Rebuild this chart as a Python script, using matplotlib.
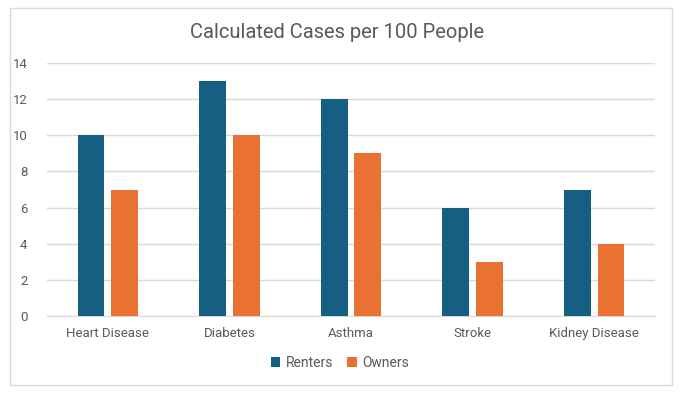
import numpy as np
import matplotlib
matplotlib.use("Agg")
import matplotlib.pyplot as plt
import matplotlib.patches as patches

categories = ["Heart Disease", "Diabetes", "Asthma", "Stroke", "Kidney Disease"]
renters = [10, 13, 12, 6, 7]
owners = [7, 10, 9, 3, 4]

plt.rcParams['font.family'] = ['Roboto', 'DejaVu Sans']
text_color = '#595959'
grid_color = '#D9D9D9'

fig = plt.figure(figsize=(6.83, 3.95), dpi=100)
ax = fig.add_axes([47/683, 1-316/395, (655-47)/683, (316-63)/395])

# outer chart border
fig.patches.append(patches.Rectangle((10/683, 1-385/395), 662/683, 377/395,
                                     transform=fig.transFigure, fill=False,
                                     edgecolor=grid_color, linewidth=1))

x = np.arange(len(categories))
w = 0.22
gap = 0.057
ax.bar(x - (w + gap)/2, renters, w, color='#156082', label='Renters', zorder=3)
ax.bar(x + (w + gap)/2, owners, w, color='#E97132', label='Owners', zorder=3)

ax.set_xlim(-0.5, len(categories) - 0.5)
ax.set_ylim(0, 14)
ax.set_yticks(np.arange(0, 15, 2))
ax.set_xticks(x)
ax.set_xticklabels(categories)
ax.yaxis.grid(True, color=grid_color, linewidth=1, zorder=0)
for s in ['top', 'right', 'left']:
    ax.spines[s].set_visible(False)
ax.spines['bottom'].set_color(grid_color)
ax.tick_params(axis='both', length=0, colors=text_color, labelsize=9.5)
ax.tick_params(axis='y', pad=14)
ax.tick_params(axis='x', pad=8)

fig.text(337/683, 1-32/395, "Calculated Cases per 100 People", ha='center', va='center',
         fontsize=14.5, color=text_color)

leg = fig.legend(loc='center', bbox_to_anchor=(340/683, 1-363/395), ncol=2, frameon=False,
                 fontsize=10, handlelength=0.7, handleheight=0.7, handletextpad=0.4,
                 columnspacing=1.0)
for t in leg.get_texts():
    t.set_color(text_color)

fig.savefig("out.png", dpi=100)
